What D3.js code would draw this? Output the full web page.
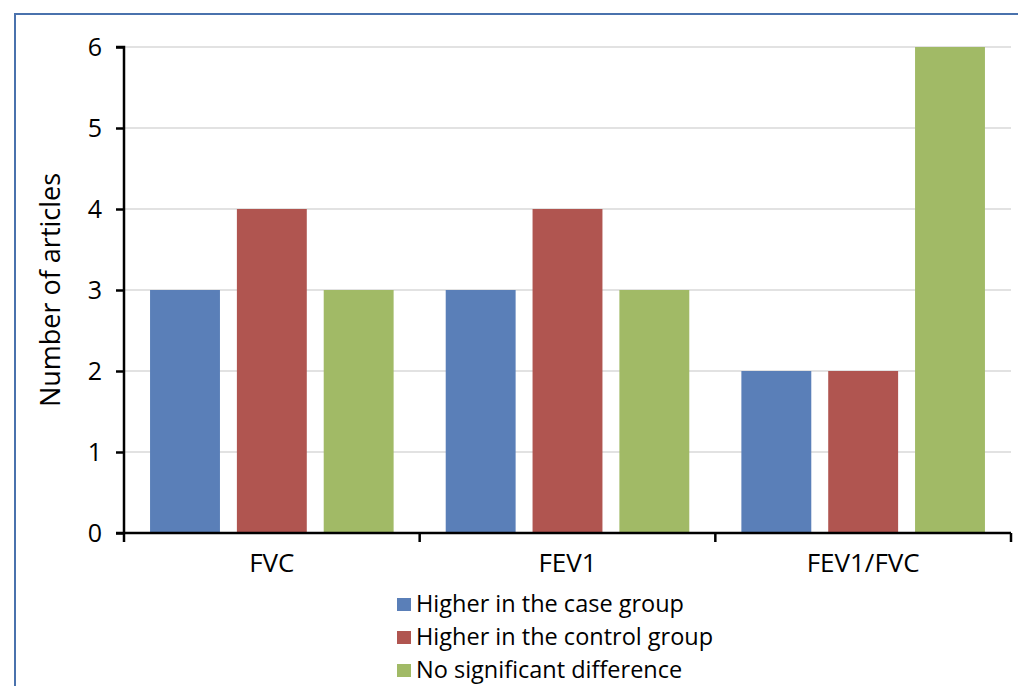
<!DOCTYPE html>
<html><head><meta charset="utf-8">
<script src="https://cdn.jsdelivr.net/npm/d3@7"></script>
<style>body{margin:0;background:#fff}svg{display:block}text{font-family:"Open Sans",sans-serif;fill:#000}</style>
</head><body><svg id="c" width="1018" height="686"></svg>
<script>
const categories = ["FVC", "FEV1", "FEV1/FVC"];
const seriesNames = ["Higher in the case group", "Higher in the control group", "No significant difference"];
const caseHigher = [3, 3, 2];
const controlHigher = [4, 4, 2];
const noDifference = [3, 3, 6];
const yTicks = [0, 1, 2, 3, 4, 5, 6];
const colors = ["#5a7fb8", "#b05550", "#a1ba66"];
const series = [caseHigher, controlHigher, noDifference];

const svg = d3.select("#c");
// frame
svg.append("rect").attr("x", 15).attr("y", 14).attr("width", 1040).attr("height", 720)
  .attr("fill", "none").attr("stroke", "#4a72ad").attr("stroke-width", 2);

const pLeft = 124, pRight = 1011, pTop = 47, pBottom = 533;
const x = d3.scaleBand().domain(categories).range([pLeft, pRight]).paddingInner(0).paddingOuter(0);
const xs = d3.scaleBand().domain(d3.range(series.length)).range([0, x.bandwidth()]).paddingInner(0.195).paddingOuter(0.3);
const y = d3.scaleLinear().domain([0, 6]).range([pBottom, pTop]);

// gridlines
svg.append("g").selectAll("line").data(yTicks.filter(d => d > 0)).join("line")
  .attr("x1", pLeft).attr("x2", pRight).attr("y1", d => y(d)).attr("y2", d => y(d))
  .attr("stroke", "#d9d9d9").attr("stroke-width", 1.5);

// bars
series.forEach((vals, si) => {
  svg.append("g").selectAll("rect").data(vals).join("rect")
    .attr("x", (d, i) => x(categories[i]) + xs(si))
    .attr("width", xs.bandwidth())
    .attr("y", d => y(d))
    .attr("height", d => y(0) - y(d))
    .attr("fill", colors[si]);
});

// y axis
const ya = svg.append("g").attr("transform", `translate(${pLeft},0)`)
  .call(d3.axisLeft(y).tickValues(yTicks).tickSize(8).tickPadding(14).tickFormat(d3.format("d")));
ya.select(".domain").attr("stroke", "#000").attr("stroke-width", 2.5).attr("d", `M-8,${pTop}H0V${pBottom}`);
ya.selectAll(".tick line").attr("stroke", "#000").attr("stroke-width", 2.5);
ya.selectAll(".tick text").attr("font-size", 25).attr("font-family", "Open Sans, sans-serif").attr("fill", "#000");

// x axis
const xa = svg.append("g").attr("transform", `translate(0,${pBottom})`)
  .call(d3.axisBottom(x).tickSize(0).tickPadding(21));
xa.select(".domain").attr("stroke", "#000").attr("stroke-width", 2.5).attr("d", `M${pLeft - 8},0H${pRight}`);
xa.selectAll(".tick text").attr("font-size", 26).attr("font-family", "Open Sans, sans-serif").attr("fill", "#000");
const bounds = categories.map(c => x(c)).concat([pRight]);
xa.append("g").selectAll("line").data(bounds).join("line")
  .attr("x1", d => d).attr("x2", d => d).attr("y1", 0).attr("y2", 9)
  .attr("stroke", "#000").attr("stroke-width", 2.5);

// y label
svg.append("text").attr("transform", "translate(60,290) rotate(-90)")
  .attr("text-anchor", "middle").attr("font-size", 27).text("Number of articles");

// legend
const lg = svg.append("g");
seriesNames.forEach((n, i) => {
  const ly = 604 + i * 33;
  lg.append("rect").attr("x", 397).attr("y", ly - 6).attr("width", 14).attr("height", 13).attr("fill", colors[i]);
  lg.append("text").attr("x", 416).attr("y", ly).attr("dy", "0.35em").attr("font-size", 23.5).text(n);
});
</script></body></html>
